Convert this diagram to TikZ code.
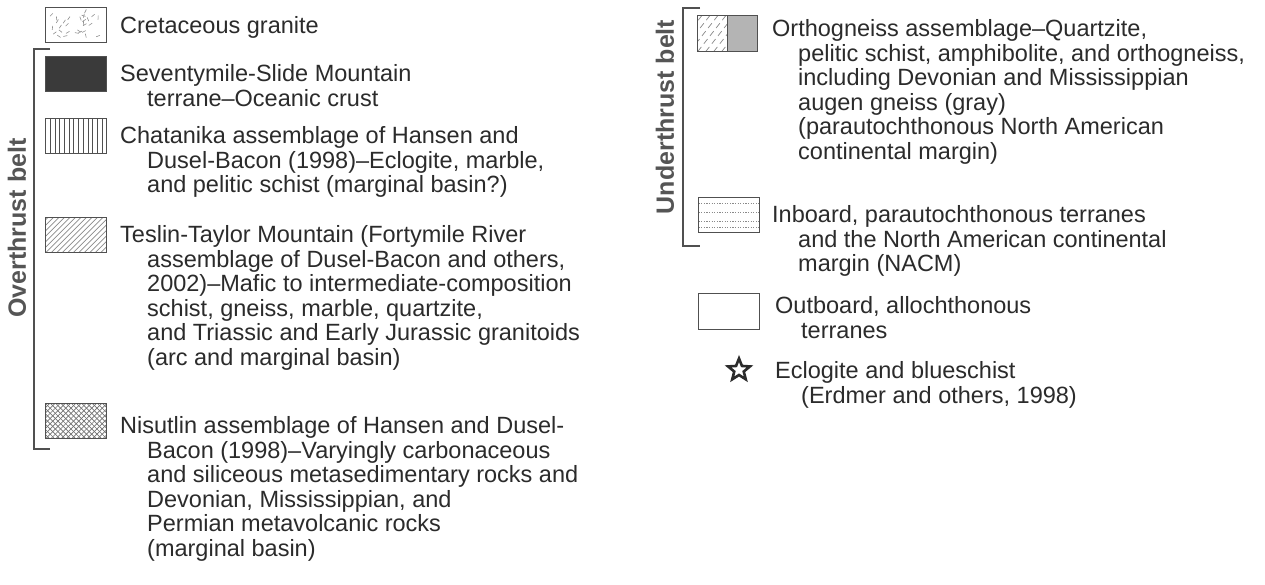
\documentclass[tikz,border=0pt]{standalone}
\usepackage{fontspec}
\setmainfont{Liberation Sans}
\usetikzlibrary{shapes.geometric}
\definecolor{txt}{HTML}{2B2B2B}
\definecolor{lbl}{HTML}{555555}
\definecolor{edge}{HTML}{505050}
\definecolor{dark}{HTML}{3A3A3A}
\definecolor{hatch}{HTML}{8A8A8A}
\definecolor{stip}{HTML}{B4B4B4}
\definecolor{gran}{HTML}{909090}
\begin{document}
\begin{tikzpicture}[x=1pt,y=-1pt,
  legbox/.style={draw=edge, line width=1.3pt, minimum width=61pt, minimum height=35pt, inner sep=0pt, anchor=north west},
  halfbox/.style={legbox, minimum width=30pt, minimum height=36pt},
  legtext/.style={anchor=base west, inner sep=0pt, text=txt, font=\fontsize{23.5}{24.6}\selectfont},
  beltlabel/.style={rotate=90, text=lbl, font=\fontsize{25}{28}\selectfont\bfseries, inner sep=0pt},
  bracket/.style={draw=edge, line width=1.3pt},
  granite/.style={path picture={
     \pgfmathsetseed{11}
     \foreach \i in {1,...,30}{
       \pgfmathsetmacro\rx{4+53*rnd}
       \pgfmathsetmacro\ry{4+27*rnd}
       \pgfmathsetmacro\ra{180*rnd}
       \draw[gran, line width=0.6pt] ([shift={(\rx pt,\ry pt)}]path picture bounding box.south west) -- ++(\ra:4pt);
     }}},
  vlines/.style={path picture={
     \foreach \k in {1,...,12}{
       \draw[edge, line width=0.8pt] ([xshift=\k*4.7pt]path picture bounding box.south west) -- ([xshift=\k*4.7pt]path picture bounding box.north west);
     }}},
  diag/.style={path picture={
     \foreach \k in {-8,...,12}{
       \draw[hatch, line width=0.7pt] ([xshift=\k*5.5pt]path picture bounding box.south west) -- ++(45:70pt);
     }}},
  cross/.style={path picture={
     \foreach \k in {-8,...,12}{
       \draw[hatch!120, line width=0.7pt] ([xshift=\k*5.2pt]path picture bounding box.south west) -- ++(45:70pt);
       \draw[hatch!120, line width=0.7pt] ([xshift=-\k*5.2pt]path picture bounding box.south east) -- ++(135:70pt);
     }}},
  sparse/.style={path picture={
     \foreach \k in {-5,...,4}{
       \draw[hatch, line width=0.7pt, dash pattern=on 6pt off 4pt] ([xshift=\k*8pt]path picture bounding box.south west) -- ++(52:60pt);
     }}},
  hdots/.style={path picture={
     \foreach \k in {6,15,24,30}{
       \draw[hatch, line width=0.8pt, dash pattern=on 1.2pt off 1.4pt] ([yshift=-\k pt]path picture bounding box.north west) -- ([yshift=-\k pt]path picture bounding box.north east);
     }}},
]
\useasboundingbox[fill=white] (0,0) rectangle (1265,585);

% ---------- left column ----------
\node[beltlabel] (over) at (17,228) {Overthrust belt};
\draw[bracket] (50,49) -- (34,49) -- (34,449) -- (50,449);

\node[legbox, granite] (b1) at (45,7) {};
\node[legtext] (t1) at (120,33.5) {Cretaceous granite};

\node[legbox, fill=dark] (b2) at (45,56) {};
\node[legtext] (t2) at (120,81.5) {\begin{tabular}[t]{@{}l@{}}Seventymile-Slide Mountain\\
\hspace*{27pt}terrane–Oceanic crust\end{tabular}};

\node[legbox, vlines] (b3) at (45,118) {};
\node[legtext] (t3) at (120,143.5) {\begin{tabular}[t]{@{}l@{}}Chatanika assemblage of Hansen and\\
\hspace*{27pt}Dusel-Bacon (1998)–Eclogite, marble,\\
\hspace*{27pt}and pelitic schist (marginal basin?)\end{tabular}};

\node[legbox, diag] (b4) at (45,217) {};
\node[legtext] (t4) at (120,242.5) {\begin{tabular}[t]{@{}l@{}}Teslin-Taylor Mountain (Fortymile River\\
\hspace*{27pt}assemblage of Dusel-Bacon and others,\\
\hspace*{27pt}2002)–Mafic to intermediate-composition\\
\hspace*{27pt}schist, gneiss, marble, quartzite,\\
\hspace*{27pt}and Triassic and Early Jurassic granitoids\\
\hspace*{27pt}(arc and marginal basin)\end{tabular}};

\node[legbox, cross] (b5) at (45,403) {};
\node[legtext] (t5) at (120,433.5) {\begin{tabular}[t]{@{}l@{}}Nisutlin assemblage of Hansen and Dusel-\\
\hspace*{27pt}Bacon (1998)–Varyingly carbonaceous\\
\hspace*{27pt}and siliceous metasedimentary rocks and\\
\hspace*{27pt}Devonian, Mississippian, and\\
\hspace*{27pt}Permian metavolcanic rocks\\
\hspace*{27pt}(marginal basin)\end{tabular}};

% ---------- right column ----------
\node[beltlabel] (under) at (665,117) {Underthrust belt};
\draw[bracket] (700,8) -- (683,8) -- (683,246) -- (700,246);

\node[halfbox, sparse] (b6a) at (697,15) {};
\node[halfbox, fill=stip] (b6b) at (727,15) {};
\node[legtext] (t6) at (772,36.5) {\begin{tabular}[t]{@{}l@{}}Orthogneiss assemblage–Quartzite,\\
\hspace*{26pt}pelitic schist, amphibolite, and orthogneiss,\\
\hspace*{26pt}including Devonian and Mississippian\\
\hspace*{26pt}augen gneiss (gray)\\
\hspace*{26pt}(parautochthonous North American\\
\hspace*{26pt}continental margin)\end{tabular}};

\node[legbox, hdots] (b7) at (698,197) {};
\node[legtext] (t7) at (772,222.5) {\begin{tabular}[t]{@{}l@{}}Inboard, parautochthonous terranes\\
\hspace*{26pt}and the North American continental\\
\hspace*{26pt}margin (NACM)\end{tabular}};

\node[legbox, minimum height=36pt] (b8) at (698,293) {};
\node[legtext] (t8) at (775,313.5) {\begin{tabular}[t]{@{}l@{}}Outboard, allochthonous\\
\hspace*{26pt}terranes\end{tabular}};

\node[star, star points=5, star point ratio=2.3, draw=txt, line width=2.6pt, minimum size=23pt, inner sep=0pt] (s9) at (739,370) {};
\node[legtext] (t9) at (775,378.5) {\begin{tabular}[t]{@{}l@{}}Eclogite and blueschist\\
\hspace*{26pt}(Erdmer and others, 1998)\end{tabular}};
\end{tikzpicture}
\end{document}
